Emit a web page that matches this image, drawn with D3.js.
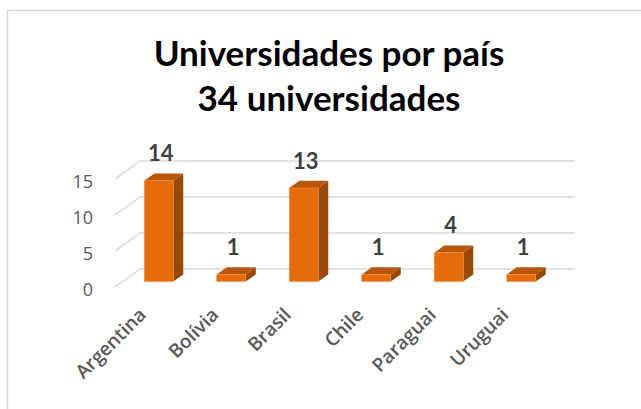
<!DOCTYPE html>
<html>
<head>
<meta charset="utf-8">
<script src="https://cdn.jsdelivr.net/npm/d3@7"></script>
<style>
  html, body { margin: 0; padding: 0; background: #fff; }
  svg { display: block; }
</style>
</head>
<body>
<div class="chart"></div>
<script>
// Data
var countries = ["Argentina", "Bolívia", "Brasil", "Chile", "Paraguai", "Uruguai"];
var universities = [14, 1, 13, 1, 4, 1];
var yTicks = [0, 5, 10, 15];
var titleLines = ["Universidades por país", "34 universidades"];

var width = 641, height = 409;

// 3D look: front plane + depth offset toward the back wall
var depth = { dx: 25, dy: -18 };

const svg = d3.select("div.chart")
    .append("svg")
    .attr("width", width)
    .attr("height", height);

// Chart frame (only top/left edges are visible in the picture)
svg.append("rect")
    .attr("x", 7.5)
    .attr("y", 10.5)
    .attr("width", 700)
    .attr("height", 500)
    .attr("fill", "white")
    .attr("stroke", "#d9d9d9")
    .attr("stroke-width", 1.5);

// Title
svg.append("g")
    .selectAll("text")
    .data(titleLines)
    .join("text")
        .attr("x", 329)
        .attr("y", (d, i) => 66 + i * 45)
        .attr("text-anchor", "middle")
        .attr("fill", "#000")
        .style("font-family", "Lato, sans-serif")
        .style("font-weight", "bold")
        .style("font-size", "35px")
        .text(d => d);

// Scales on the front plane
var x = d3.scaleBand()
    .domain(countries)
    .range([115, 550]);
var y = d3.scaleLinear()
    .domain([0, 15])
    .range([287, 179]);

// Grid lines: diagonal on the side wall, then across the back wall
svg.append("g")
    .selectAll("polyline")
    .data(yTicks)
    .join("polyline")
        .attr("points", d => [
            [x.range()[0], y(d)],
            [x.range()[0] + depth.dx, y(d) + depth.dy],
            [x.range()[1] + depth.dx, y(d) + depth.dy]
        ].join(" "))
        .attr("fill", "none")
        .attr("stroke", "#d9d9d9")
        .attr("stroke-width", 1.5);

// Y axis labels
svg.append("g")
    .selectAll("text")
    .data(yTicks)
    .join("text")
        .attr("x", 93)
        .attr("y", d => y(d) + 2)
        .attr("text-anchor", "end")
        .attr("dominant-baseline", "central")
        .attr("fill", "#595959")
        .style("font-family", "'Open Sans', sans-serif")
        .style("font-size", "18px")
        .text(d => d);

// Bars: sit in the middle of the depth, 40% of band width and of depth
var gapFrac = 0.3, barFrac = 0.4;
var bw = x.bandwidth() * barFrac;
var off = { dx: depth.dx * gapFrac, dy: depth.dy * gapFrac };
var bd = { dx: depth.dx * barFrac, dy: depth.dy * barFrac };

var data = countries.map((c, i) => ({ name: c, value: universities[i] }));

function frontX(d) { return x(d.name) + x.bandwidth() * gapFrac + off.dx; }
function baseY() { return y(0) + off.dy; }
function topY(d) { return y(d.value) + off.dy; }

var bars = svg.append("g")
    .selectAll("g")
    .data(data)
    .join("g");

// side face
bars.append("path")
    .attr("d", d => {
        var x1 = frontX(d) + bw;
        return "M" + x1 + "," + baseY() +
            "L" + (x1 + bd.dx) + "," + (baseY() + bd.dy) +
            "L" + (x1 + bd.dx) + "," + (topY(d) + bd.dy) +
            "L" + x1 + "," + topY(d) + "Z";
    })
    .attr("fill", "#984807");

// top face
bars.append("path")
    .attr("d", d => {
        var x0 = frontX(d), t = topY(d);
        return "M" + x0 + "," + t +
            "L" + (x0 + bd.dx) + "," + (t + bd.dy) +
            "L" + (x0 + bw + bd.dx) + "," + (t + bd.dy) +
            "L" + (x0 + bw) + "," + t + "Z";
    })
    .attr("fill", "#B85609");

// front face
bars.append("rect")
    .attr("x", d => frontX(d))
    .attr("y", d => topY(d))
    .attr("width", bw)
    .attr("height", d => baseY() - topY(d))
    .attr("fill", "#E46C0A")
    .attr("stroke", "#F79646")
    .attr("stroke-width", 0.6);

// Value labels
svg.append("g")
    .selectAll("text")
    .data(data)
    .join("text")
        .attr("x", d => frontX(d) + bw / 2 + 2)
        .attr("y", d => topY(d) - 19.5)
        .attr("text-anchor", "middle")
        .attr("fill", "#404040")
        .style("font-family", "Lato, sans-serif")
        .style("font-weight", "bold")
        .style("font-size", "22px")
        .text(d => d.value);

// Category labels, rotated
svg.append("g")
    .selectAll("text")
    .data(countries)
    .join("text")
        .attr("transform", d => "translate(" + (x(d) + x.bandwidth() / 2 - 4) + ",316) rotate(-45)")
        .attr("text-anchor", "end")
        .attr("fill", "#595959")
        .style("font-family", "'Open Sans', sans-serif")
        .style("font-weight", "600")
        .style("font-size", "19px")
        .text(d => d);
</script>
</body>
</html>
